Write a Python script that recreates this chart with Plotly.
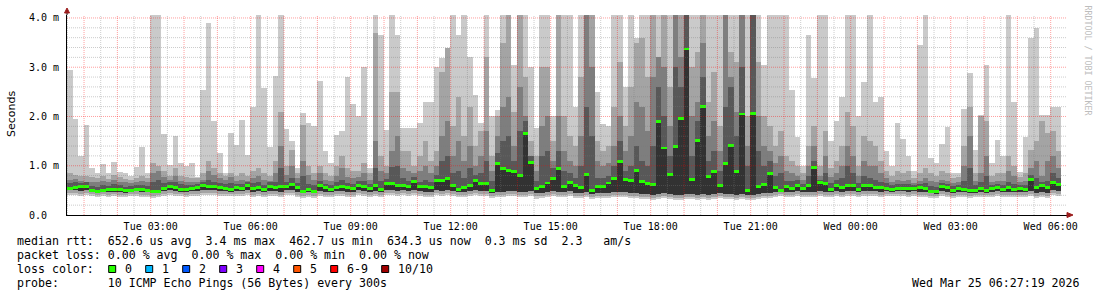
import numpy as np
import plotly.graph_objects as go
from datetime import datetime, timedelta

# ---------------- data (values in "m" = milliseconds) ----------------
# 10-minute bins starting Tue 2026-03-24 00:29:20
# top of outer smoke band (max ping)
HI1 = ([2.95,1.95,1.2,1.82,0.95,0.85,1.03,0.85,1.08,0.88,0.85,0.8,0.98,1.39,0.85,4.06,4.06,1.65,1.02,1.6,1.05,1.0,1.05,0.78,2.54,3.9,1.9,1.25,0.85,1.66]
       + [1.42,1.93,1.22,2.2,4.06,2.57,1.38,2.83,4.06,1.75,1.51,0.95,2.07,1.86,1.81,2.72,1.3,1.05,1.63,1.7,2.81,2.25,2.01,3.0,0.95,4.06,3.66,1.73,4.06]
       + [3.66,1.76,1.76,1.76,1.86,2.3,2.3,3.01,3.18,3.4,4.06,3.66,4.06,3.2,2.44,1.86,4.06,2.0,2.13,4.06,4.06,3.05,4.06,4.06,3.0,1.76,4.06,4.06,2.0,4.06]
       + [4.06,4.06,2.2,4.06,4.06,4.06,2.5,1.85,1.8,4.06,4.06,2.6,4.06,3.6,4.06,4.06,4.06,4.06,4.06,4.06,4.06,4.06,4.06,4.06,4.06,4.06,4.06,4.06,4.06]
       + [4.06,4.06,4.06,4.06,4.06,4.06,4.06,3.05,4.06,4.06,4.06,4.06,2.54,1.59,1.0,3.66,2.78,4.06,4.06,1.5,1.9,2.4,4.06,4.06,2.0,2.71,4.06,2.3,2.4,1.3]
       + [1.0,1.86,1.55,1.2,0.9,3.46,4.06,1.15,1.05,1.44,1.78,0.85,0.85,2.15,2.88,1.32,2.03,3.05,1.05,1.52,1.2,4.06,2.3,0.88,1.59,3.59,3.79,2.03,2.03,2.2,2.2])
HI2 = ([0.85,0.82,0.8,0.8,0.78,0.75,0.8,0.74,0.82,0.78,0.74,0.72,0.76,0.8,0.75,1.05,1.0,0.9,0.8,0.95,0.8,0.78,0.75,0.76,0.85,1.1,0.95,0.85,0.8,0.85]
       + [0.8,0.85,0.8,0.9,0.95,0.85,0.8,1.1,2.1,1.0,1.32,0.85,1.83,1.0,0.85,1.0,0.85,0.8,1.0,1.19,0.95,0.9,0.9,1.05,0.85,3.69,1.2,1.0,2.5]
       + [2.5,1.3,1.3,1.0,1.2,1.5,1.1,1.3,2.9,3.4,1.8,2.4,1.6,2.2,1.4,1.7,3.2,1.2,2.0,3.5,4.06,2.1,4.06,2.8,1.5,1.2,3.0,3.0,1.5,4.06]
       + [2.0,1.6,1.4,2.8,4.06,4.06,1.5,1.3,1.4,2.2,3.1,1.8,2.6,3.5,3.6,2.8,4.06,3.2,4.06,2.6,4.06,4.06,4.06,3.0,3.3,4.06,2.3,2.9,1.8]
       + [4.06,3.3,3.1,4.06,2.0,4.06,3.1,2.0,1.8,1.4,1.7,1.2,1.1,1.0,0.85,1.4,1.8,1.0,1.7,0.95,1.1,1.4,2.1,1.8,1.0,1.6,1.5,1.4,1.1,0.9]
       + [0.8,0.9,0.85,0.9,0.75,0.85,0.95,0.85,0.8,0.9,0.85,0.75,0.78,1.4,2.2,0.85,2.0,1.9,0.8,0.85,0.85,1.2,1.0,0.78,0.85,1.32,1.5,1.9,1.66,1.7,1.3])
HI3 = ([0.72,0.74,0.7,0.68,0.66,0.68,0.7,0.66,0.72,0.68,0.66,0.65,0.66,0.7,0.68,0.85,0.9,0.78,0.72,0.8,0.7,0.68,0.68,0.66,0.72,0.9,0.82,0.75,0.72,0.78]
       + [0.7,0.72,0.7,0.75,0.8,0.72,0.7,0.85,1.4,0.82,1.0,0.75,1.1,0.82,0.72,0.85,0.72,0.7,0.8,0.95,0.78,0.75,0.78,0.85,0.72,1.5,0.9,0.85,1.29]
       + [1.6,0.95,0.9,0.85,0.9,1.0,0.85,1.0,1.6,1.9,1.2,1.5,1.1,1.4,1.0,1.2,1.7,0.9,1.6,2.2,2.4,1.4,2.6,2.0,1.2,0.9,1.8,2.0,1.1,2.0]
       + [1.3,1.1,1.0,1.6,4.06,3.0,1.1,1.0,1.05,1.4,2.0,1.3,1.6,2.3,2.2,1.7,2.8,3.2,3.0,1.8,4.06,3.2,4.06,2.0,2.3,3.5,1.6,1.9,1.3]
       + [4.06,2.8,2.1,4.06,1.4,4.06,2.0,1.4,1.3,1.05,1.2,0.9,0.85,0.8,0.72,1.0,1.4,0.8,1.2,0.78,0.85,1.0,1.4,1.2,0.8,1.1,1.0,1.0,0.85,0.75]
       + [0.68,0.72,0.7,0.72,0.65,0.7,0.75,0.7,0.66,0.72,0.7,0.64,0.66,1.0,1.6,0.7,0.85,1.2,0.68,0.7,0.7,0.9,0.8,0.66,0.7,0.95,1.1,0.8,1.1,1.2,0.95])
HI4 = ([0.64,0.66,0.65,0.66,0.58,0.57,0.6,0.58,0.62,0.6,0.57,0.58,0.6,0.6,0.58,0.66,0.72,0.64,0.66,0.66,0.62,0.6,0.61,0.62,0.67,0.72,0.66,0.64,0.62,0.64]
       + [0.62,0.62,0.67,0.64,0.66,0.6,0.66,0.66,0.95,0.68,0.75,0.65,0.8,0.62,0.6,0.7,0.63,0.6,0.66,0.72,0.65,0.62,0.7,0.7,0.63,0.95,0.7,0.74,0.98]
       + [1.0,0.75,0.7,0.78,0.68,0.72,0.66,0.82,1.1,1.2,0.85,0.9,0.75,0.95,0.82,0.85,1.1,0.7,1.25,1.5,1.6,1.1,1.7,1.9,1.2,0.7,1.2,1.3,0.95,1.3]
       + [0.9,0.85,0.75,1.0,2.2,1.6,0.75,0.75,0.8,1.0,1.5,0.9,1.0,1.4,1.1,1.0,1.4,2.6,2.0,1.2,3.0,2.6,4.06,1.2,1.9,2.8,1.1,1.3,0.9]
       + [2.2,2.6,1.6,3.0,1.0,4.06,1.3,1.0,1.1,0.8,0.85,0.7,0.7,0.72,0.62,0.8,1.1,0.72,0.85,0.64,0.72,0.75,1.0,0.85,0.65,0.8,0.75,0.72,0.68,0.64]
       + [0.6,0.62,0.62,0.62,0.6,0.63,0.64,0.58,0.57,0.65,0.62,0.58,0.6,0.7,0.95,0.6,0.68,0.8,0.6,0.62,0.6,0.68,0.62,0.6,0.6,0.82,0.75,0.68,0.7,0.85,0.75])
# median rtt
MED = ([0.53,0.55,0.57,0.58,0.5,0.48,0.5,0.51,0.52,0.52,0.49,0.5,0.52,0.51,0.5,0.48,0.47,0.53,0.58,0.56,0.52,0.52,0.53,0.55,0.59,0.58,0.57,0.55,0.54,0.52]
       + [0.55,0.54,0.59,0.54,0.56,0.51,0.58,0.55,0.57,0.58,0.62,0.56,0.48,0.51,0.48,0.6,0.55,0.52,0.56,0.57,0.55,0.53,0.6,0.58,0.54,0.6,0.52,0.63,0.64]
       + [0.6,0.6,0.57,0.68,0.57,0.57,0.55,0.7,0.7,0.75,0.6,0.52,0.55,0.6,0.7,0.63,0.63,0.49,1.05,0.94,0.91,0.89,0.8,1.66,1.07,0.53,0.57,0.65,0.75,0.95]
       + [0.57,0.66,0.6,0.55,0.83,0.5,0.58,0.57,0.65,0.75,1.08,0.72,0.7,0.91,0.68,0.63,0.62,1.9,1.36,0.83,1.39,1.96,3.37,0.72,1.52,2.2,0.78,0.89,0.6]
       + [1.04,1.42,0.89,2.05,0.49,2.07,0.58,0.62,0.85,0.56,0.5,0.57,0.53,0.6,0.54,0.6,0.97,0.66,0.64,0.52,0.59,0.55,0.59,0.6,0.52,0.6,0.59,0.56,0.55,0.54]
       + [0.52,0.53,0.54,0.53,0.53,0.55,0.53,0.48,0.47,0.57,0.55,0.5,0.53,0.52,0.5,0.5,0.54,0.5,0.53,0.55,0.52,0.55,0.51,0.53,0.52,0.72,0.56,0.59,0.56,0.66,0.62])
# bottoms of the smoke bands (min ping, 2nd, 3rd)
LO1 = ([0.41,0.4,0.39,0.4,0.38,0.37,0.38,0.36,0.38,0.37,0.36,0.38,0.39,0.36,0.37,0.35,0.36,0.38,0.4,0.39,0.38,0.37,0.39,0.38,0.4,0.41,0.4,0.38,0.39,0.38]
       + [0.39,0.38,0.4,0.37,0.38,0.36,0.39,0.38,0.37,0.4,0.41,0.37,0.35,0.36,0.35,0.39,0.37,0.36,0.38,0.39,0.37,0.36,0.4,0.38,0.37,0.39,0.36,0.4,0.4]
       + [0.39,0.4,0.38,0.41,0.38,0.37,0.37,0.4,0.39,0.41,0.38,0.36,0.37,0.38,0.4,0.39,0.38,0.35,0.36,0.37,0.39,0.38,0.36,0.37,0.38,0.33,0.34,0.36,0.38,0.37]
       + [0.36,0.38,0.35,0.34,0.36,0.33,0.34,0.35,0.34,0.36,0.37,0.36,0.35,0.34,0.33,0.32,0.31,0.33,0.34,0.32,0.3,0.31,0.32,0.33,0.31,0.32,0.3,0.33,0.34]
       + [0.32,0.33,0.31,0.32,0.3,0.31,0.33,0.34,0.35,0.37,0.38,0.37,0.36,0.38,0.37,0.36,0.37,0.38,0.36,0.37,0.38,0.37,0.39,0.38,0.37,0.38,0.39,0.38,0.37,0.39]
       + [0.38,0.39,0.38,0.37,0.38,0.37,0.36,0.35,0.34,0.38,0.37,0.35,0.36,0.37,0.35,0.36,0.37,0.36,0.37,0.38,0.36,0.37,0.36,0.37,0.36,0.38,0.34,0.37,0.35,0.4,0.38])
LO2 = ([0.45,0.44,0.43,0.44,0.42,0.41,0.42,0.4,0.42,0.41,0.4,0.42,0.43,0.4,0.41,0.39,0.4,0.42,0.44,0.43,0.42,0.41,0.43,0.42,0.44,0.45,0.44,0.42,0.43,0.42]
       + [0.43,0.42,0.44,0.41,0.42,0.4,0.43,0.42,0.41,0.44,0.45,0.41,0.39,0.4,0.39,0.43,0.41,0.4,0.42,0.43,0.41,0.4,0.44,0.42,0.41,0.43,0.4,0.44,0.44]
       + [0.43,0.44,0.42,0.45,0.42,0.41,0.41,0.44,0.43,0.45,0.42,0.4,0.41,0.42,0.44,0.43,0.42,0.39,0.4,0.41,0.43,0.42,0.4,0.41,0.42,0.38,0.39,0.4,0.42,0.41]
       + [0.4,0.42,0.39,0.38,0.4,0.37,0.38,0.39,0.38,0.4,0.41,0.4,0.39,0.38,0.37,0.36,0.35,0.37,0.38,0.36,0.35,0.35,0.36,0.37,0.35,0.36,0.35,0.37,0.38]
       + [0.36,0.37,0.35,0.36,0.35,0.35,0.37,0.38,0.39,0.41,0.42,0.41,0.4,0.42,0.41,0.4,0.41,0.42,0.4,0.41,0.42,0.41,0.43,0.42,0.41,0.42,0.43,0.42,0.41,0.43]
       + [0.42,0.43,0.42,0.41,0.42,0.41,0.4,0.39,0.38,0.42,0.41,0.39,0.4,0.41,0.39,0.4,0.41,0.4,0.41,0.42,0.4,0.41,0.4,0.41,0.4,0.42,0.38,0.41,0.39,0.44,0.42])
LO3 = ([0.51,0.5,0.49,0.5,0.48,0.47,0.48,0.46,0.48,0.47,0.46,0.48,0.49,0.46,0.47,0.45,0.46,0.48,0.5,0.49,0.48,0.47,0.49,0.48,0.5,0.51,0.5,0.48,0.49,0.48]
       + [0.49,0.48,0.5,0.47,0.48,0.46,0.49,0.48,0.47,0.5,0.51,0.47,0.45,0.46,0.45,0.49,0.47,0.46,0.48,0.49,0.47,0.46,0.5,0.48,0.47,0.49,0.46,0.5,0.5]
       + [0.49,0.5,0.48,0.51,0.48,0.47,0.47,0.5,0.49,0.51,0.48,0.46,0.47,0.48,0.5,0.49,0.48,0.45,0.46,0.47,0.49,0.48,0.46,0.47,0.48,0.44,0.45,0.46,0.48,0.47]
       + [0.46,0.48,0.45,0.44,0.46,0.43,0.44,0.45,0.44,0.46,0.47,0.46,0.45,0.44,0.43,0.42,0.41,0.43,0.44,0.42,0.41,0.41,0.42,0.43,0.41,0.42,0.41,0.43,0.44]
       + [0.42,0.43,0.41,0.42,0.41,0.41,0.43,0.44,0.45,0.47,0.48,0.47,0.46,0.48,0.47,0.46,0.47,0.48,0.46,0.47,0.48,0.47,0.49,0.48,0.47,0.48,0.49,0.48,0.47,0.49]
       + [0.48,0.49,0.48,0.47,0.48,0.47,0.46,0.45,0.44,0.48,0.47,0.45,0.46,0.47,0.45,0.46,0.47,0.46,0.47,0.48,0.46,0.47,0.46,0.47,0.46,0.48,0.44,0.47,0.45,0.5,0.48])

X_TICK_LABELS = ["Tue 03:00", "Tue 06:00", "Tue 09:00", "Tue 12:00", "Tue 15:00",
                 "Tue 18:00", "Tue 21:00", "Wed 00:00", "Wed 03:00", "Wed 06:00"]
Y_TICK_VALS = [0, 1, 2, 3, 4]
Y_TICK_LABELS = ["0.0  ", "1.0 m", "2.0 m", "3.0 m", "4.0 m"]
LOSS_LABELS = ["0", "1", "2", "3", "4", "5", "6-9", "10/10"]
LOSS_COLORS = ["#26ff00", "#00b8ff", "#0059ff", "#7e00ff", "#ff00ff", "#ff5500", "#ff0000", "#a10000"]
STATS_ROWS = ["median rtt:  652.6 us avg  3.4 ms max  462.7 us min  634.3 us now  0.3 ms sd  2.3   am/s",
              "packet loss: 0.00 % avg  0.00 % max  0.00 % min  0.00 % now",
              "loss color:",
              "probe:       10 ICMP Echo Pings (56 Bytes) every 300s"]
STAMP = "Wed Mar 25 06:27:19 2026"

# ---------------- geometry ----------------
W, H = 1097, 297
L, R, T, B = 67, 30, 15, 82
PW, PH = W - L - R, H - T - B
YMAX = 4.06
T0 = datetime(2026, 3, 24, 0, 29, 20)
T1 = T0 + timedelta(hours=30)
STEP = timedelta(minutes=10)
n = min(len(a) for a in (HI1, HI2, HI3, HI4, MED, LO1, LO2, LO3))
times = [T0 + STEP * (i + 0.5) for i in range(n)]
BW = STEP.total_seconds() * 1000

def px(xp):
    return (xp - L) / PW

def py(yp):
    return (H - B - yp) / PH

def nb(s):
    return s.replace(" ", "\u00a0")

MONO = "DejaVu Sans Mono"
fig = go.Figure()

a = lambda v: np.array(v[:n], dtype=float)
layers = [(a(LO1), a(HI1), "#cacaca"), (a(LO2), a(HI2), "#a4a4a4"), (a(LO3), a(HI3), "#7e7e7e"),
          (a(LO3), a(HI4), "#585858"), (a(LO3), a(MED), "#323232")]
for lo, hi, col in layers:
    fig.add_trace(go.Bar(x=times, y=hi - lo, base=lo, width=BW,
                         marker=dict(color=col, line=dict(width=0)), hoverinfo="skip"))
med = a(MED)
fig.add_trace(go.Bar(x=times, y=np.full(n, 0.06), base=med - 0.03, width=BW,
                     marker=dict(color=LOSS_COLORS[0], line=dict(width=0)), hoverinfo="skip"))

shapes = []
RED = "rgba(255,0,0,0.38)"
GRAY = "rgba(120,120,120,0.38)"
t = datetime(2026, 3, 24, 0, 30)
while t < T1:
    shapes.append(dict(type="line", xref="x", yref="paper", x0=t, x1=t, y0=0, y1=1, layer="above",
                       line=dict(color=RED if t.minute == 0 else GRAY, width=1, dash="1px,1px")))
    t += timedelta(minutes=30)
for k in range(1, 21):
    v = k * 0.2
    shapes.append(dict(type="line", xref="paper", yref="y", x0=0, x1=1, y0=v, y1=v, layer="above",
                       line=dict(color=RED if k % 5 == 0 else GRAY, width=1, dash="1px,1px")))
# axis arrows
ARROW = "#9b1c1c"
shapes.append(dict(type="line", xref="paper", yref="paper", x0=0, x1=0, y0=1, y1=py(12), line=dict(color="black", width=1)))
shapes.append(dict(type="path", xref="paper", yref="paper", fillcolor=ARROW, line=dict(color=ARROW, width=1),
                   path=f"M {px(64.5)},{py(13)} L {px(69.5)},{py(13)} L {px(67)},{py(8)} Z"))
shapes.append(dict(type="path", xref="paper", yref="paper", fillcolor=ARROW, line=dict(color=ARROW, width=1),
                   path=f"M {px(1067)},{py(212.5)} L {px(1067)},{py(217.5)} L {px(1073)},{py(215)} Z"))

annotations = []
row_y = [241, 255, 269, 283]
for s, yy in zip(STATS_ROWS, row_y):
    annotations.append(dict(text=nb(s), xref="paper", yref="paper", x=px(15), y=py(yy),
                            xanchor="left", yanchor="middle", showarrow=False,
                            font=dict(family=MONO, size=11.6, color="black")))
bx = 108.7
for lab, col in zip(LOSS_LABELS, LOSS_COLORS):
    shapes.append(dict(type="rect", xref="paper", yref="paper", x0=px(bx), x1=px(bx + 7),
                       y0=py(265.5), y1=py(272.5), fillcolor=col, line=dict(color="black", width=1)))
    annotations.append(dict(text=nb(lab), xref="paper", yref="paper", x=px(bx + 14.3), y=py(269),
                            xanchor="left", yanchor="middle", showarrow=False,
                            font=dict(family=MONO, size=11.6, color="black")))
    bx += 15.3 + 7 * len(lab) + 14.7
annotations.append(dict(text=nb(STAMP), xref="paper", yref="paper", x=px(1082), y=py(283),
                        xanchor="right", yanchor="middle", showarrow=False,
                        font=dict(family=MONO, size=11.6, color="black")))
annotations.append(dict(text="Seconds", xref="paper", yref="paper", x=px(11), y=py(114),
                        xanchor="center", yanchor="middle", textangle=-90, showarrow=False,
                        font=dict(family="DejaVu Sans", size=11, color="black")))
annotations.append(dict(text=nb("RRDTOOL / TOBI OETIKER"), xref="paper", yref="paper", x=px(1087.5), y=py(60),
                        xanchor="center", yanchor="middle", textangle=90, showarrow=False,
                        font=dict(family=MONO, size=8.3, color="#bdbdbd")))

xtick_vals = [datetime(2026, 3, 24, 3) + timedelta(hours=3 * k) for k in range(len(X_TICK_LABELS))]
fig.update_layout(
    width=W, height=H, margin=dict(l=L, r=R, t=T, b=B, pad=0),
    paper_bgcolor="white", plot_bgcolor="white", showlegend=False, hovermode=False,
    barmode="overlay", bargap=0,
    xaxis=dict(type="date", range=[T0, T1], showgrid=False, zeroline=False, showline=True,
               linecolor="black", linewidth=1, tickmode="array", tickvals=xtick_vals,
               ticktext=[nb(s) for s in X_TICK_LABELS], ticks="", ticklabelstandoff=2,
               tickfont=dict(family=MONO, size=10, color="black"), fixedrange=True),
    yaxis=dict(range=[0, YMAX], showgrid=False, zeroline=False, showline=True,
               linecolor="black", linewidth=1, tickmode="array", tickvals=Y_TICK_VALS,
               ticktext=[nb(s) for s in Y_TICK_LABELS], ticks="", ticklabelstandoff=5,
               tickfont=dict(family=MONO, size=10, color="black"), fixedrange=True),
    shapes=shapes, annotations=annotations,
)
fig.write_html("out.html")
